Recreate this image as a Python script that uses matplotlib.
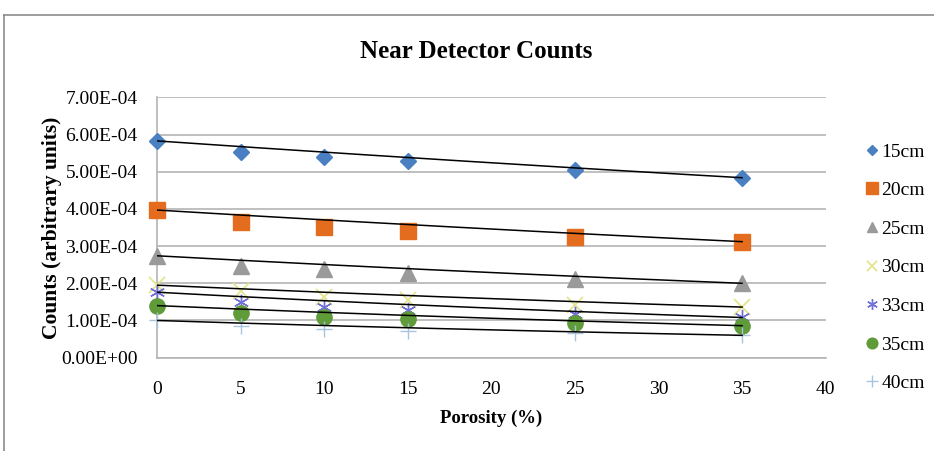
import numpy as np
import matplotlib
matplotlib.use("Agg")
import matplotlib.pyplot as plt
from matplotlib.lines import Line2D

plt.rcParams['font.family'] = ['Liberation Serif', 'DejaVu Serif']

porosity = [0, 5, 10, 15, 25, 35]
labels = ["15cm", "20cm", "25cm", "30cm", "33cm", "35cm", "40cm"]
c15 = [5.83e-4, 5.54e-4, 5.40e-4, 5.29e-4, 5.06e-4, 4.84e-4]
c20 = [3.97e-4, 3.66e-4, 3.52e-4, 3.41e-4, 3.24e-4, 3.12e-4]
c25 = [2.74e-4, 2.47e-4, 2.38e-4, 2.27e-4, 2.11e-4, 2.00e-4]
c30 = [1.95e-4, 1.78e-4, 1.63e-4, 1.55e-4, 1.42e-4, 1.36e-4]
c33 = [1.76e-4, 1.50e-4, 1.36e-4, 1.28e-4, 1.17e-4, 1.08e-4]
c35 = [1.40e-4, 1.20e-4, 1.10e-4, 1.03e-4, 0.92e-4, 0.86e-4]
c40 = [1.00e-4, 0.84e-4, 0.76e-4, 0.71e-4, 0.65e-4, 0.60e-4]
series = [c15, c20, c25, c30, c33, c35, c40]

styles = [
    dict(marker='D', ms=8, color='#4a7fc1', mec='#4a7fc1'),
    dict(marker='s', ms=12, color='#e46c1e', mec='#e46c1e'),
    dict(marker='^', ms=11, color='#9a9a9a', mec='#9a9a9a'),
    dict(marker='x', ms=11, color='#e4e490', mec='#e4e490', mew=1.3),
    dict(marker=(6, 2, 0), ms=11, color='#7070d8', mec='#7070d8', mew=1.0),
    dict(marker='o', ms=11, color='#5f9b38', mec='#5f9b38'),
    dict(marker='+', ms=12, color='#a9c4e0', mec='#a9c4e0', mew=1.0),
]

fig = plt.figure(figsize=(9.34, 4.51), dpi=100)
ax = fig.add_axes([0.168, 0.207, 0.716, 0.577])

# outer chart frame (top and left visible)
fig.add_artist(Line2D([4/934, 4/934], [0, 1 - 15/451], color='#8c8c8c', lw=1.2, transform=fig.transFigure))
fig.add_artist(Line2D([4/934, 1], [1 - 15/451, 1 - 15/451], color='#8c8c8c', lw=1.2, transform=fig.transFigure))

x = np.array(porosity, dtype=float)
xs = np.linspace(0, 35, 200)
handles = []
for vals, st, lab in zip(series, styles, labels):
    y = np.array(vals)
    h, = ax.plot(x, y, linestyle='none', label=lab, zorder=3, clip_on=False, **st)
    handles.append(h)
    # exponential trend curve through the first and last values
    b = np.log(y[-1] / y[0]) / (x[-1] - x[0])
    ax.plot(xs, y[0] * np.exp(b * (xs - x[0])), color='black', lw=1.1, zorder=4)

ax.set_xlim(0, 40)
ax.set_ylim(0, 7e-4)
ax.set_xticks(range(0, 41, 5))
ax.set_yticks(np.arange(0, 7.01e-4, 1e-4))
ax.yaxis.set_major_formatter(matplotlib.ticker.FuncFormatter(lambda v, p: f"{v:.2E}"))
ax.grid(axis='y', color='#b4b4b4', lw=1.2)
ax.set_axisbelow(True)
for s in ['top', 'right']:
    ax.spines[s].set_visible(False)
for s in ['left', 'bottom']:
    ax.spines[s].set_color('#b4b4b4')
    ax.spines[s].set_linewidth(1.2)
ax.tick_params(axis='both', length=0, labelsize=14)
ax.tick_params(axis='x', pad=17)
ax.tick_params(axis='y', pad=14)

ax.set_xlabel("Porosity (%)", fontsize=13.5, fontweight='bold', labelpad=8)
ax.set_ylabel("Counts (arbitrary units)", fontsize=15.5, fontweight='bold', labelpad=-1)
fig.text(476/934, 1 - 52/451, "Near Detector Counts", ha='center', va='center',
         fontsize=18, fontweight='bold')

leg = fig.legend(handles=handles, loc='upper left', bbox_to_anchor=(866/934, 1 - 143/451),
                 frameon=False, fontsize=14, markerscale=0.7, handlelength=0.6,
                 handletextpad=0.2, labelspacing=1.08, borderaxespad=0, borderpad=0)

fig.savefig("out.png", dpi=100)
